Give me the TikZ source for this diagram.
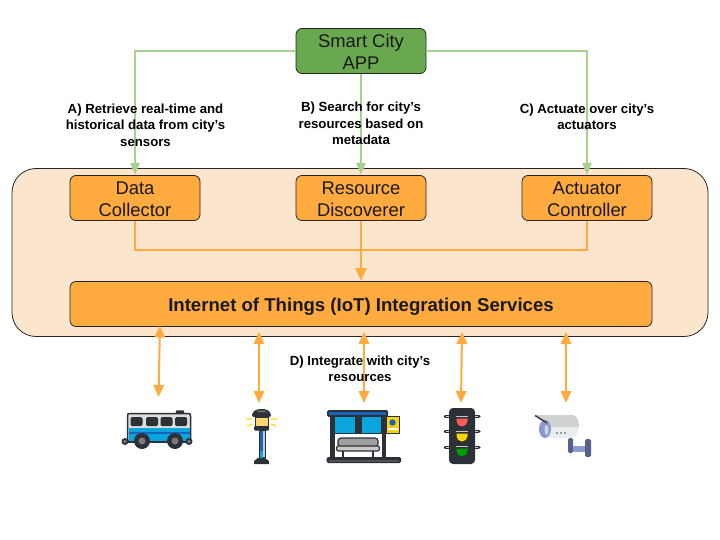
\documentclass[tikz,border=0pt]{standalone}
\usepackage{fontspec}
\setmainfont{Liberation Sans}
\usetikzlibrary{arrows.meta}
\definecolor{gline}{HTML}{A6D18E}
\definecolor{gfill}{HTML}{6AA84F}
\definecolor{ofill}{HTML}{FFAB40}
\definecolor{oline}{HTML}{FFAB40}
\definecolor{panel}{HTML}{FCE5CD}
\definecolor{ink}{HTML}{2B3137}
\definecolor{busblue}{HTML}{0BA5DE}
\definecolor{deepblue}{HTML}{1565C0}
\definecolor{silver}{HTML}{C8C8C8}
\definecolor{camdark}{HTML}{58608A}
\definecolor{cammid}{HTML}{8A99CF}
\definecolor{camtop}{HTML}{D0D2CF}
\definecolor{camlow}{HTML}{E9EDF0}
\newcommand\lowstrut{\rule{0pt}{15.5pt}}
\tikzset{
  x=1pt,y=-1pt,
  box/.style={draw=black!85,line width=0.8pt,rounded corners=6pt,fill=ofill,text=black!90,align=center,font=\fontsize{18.4}{22}\selectfont,inner sep=0pt,minimum width=130pt,minimum height=45pt},
  note/.style={font=\bfseries\fontsize{13.2}{16.5}\selectfont,align=center,text=black,inner sep=0pt},
  glink/.style={draw=gline,line width=2pt,-{Triangle[length=12pt,width=9pt]}},
  olink/.style={draw=oline,line width=2pt},
  oarrow/.style={draw=oline,line width=2.5pt,-{Triangle[length=13pt,width=11pt]}},
  both/.style={draw=oline,line width=2pt,{Triangle[length=12pt,width=10.5pt]}-{Triangle[length=12pt,width=10.5pt]}},
  thick ink/.style={draw=ink,line width=1.5pt},
}
\begin{document}
\begin{tikzpicture}
\useasboundingbox (0,0) rectangle (720,540);
\fill[white] (0,0) rectangle (720,540);
\draw[draw=black!85,line width=0.8pt,fill=panel,rounded corners=24pt] (12,168.5) rectangle (708,336.5);
\node[box,fill=gfill] (app) at (361,51) {\lowstrut Smart City\\APP};
\node[box] (dc) at (135,198) {\lowstrut Data\\Collector};
\node[box] (rd) at (361,198) {\lowstrut Resource\\Discoverer};
\node[box] (ac) at (587,198) {\lowstrut Actuator\\Controller};
\node[box,minimum width=582pt,font=\bfseries\fontsize{18.6}{22}\selectfont] (iot) at (361,304) {\raisebox{-2.5pt}[\height][\depth]{Internet of Things (IoT) Integration Services}};
\coordinate (busb) at (158.5,397);
\coordinate (bust) at (160,325.5);
\coordinate (lampb) at (259,403);
\coordinate (lampt) at (259,332);
\coordinate (shelb) at (364,403);
\coordinate (shelt) at (364,332);
\coordinate (tlb) at (461,403);
\coordinate (tlt) at (462,332);
\coordinate (camb) at (566,403);
\coordinate (camt) at (566,332);
\coordinate (mrg) at (361,250);
\draw[glink] (app.west) -| (dc.north);
\draw[glink] (app.east) -| (ac.north);
\draw[glink] (app.south) -- (rd.north);
\draw[olink] (dc.south) |- (mrg);
\draw[olink] (ac.south) |- (mrg);
\draw[oarrow] (rd.south) -- (iot.north);
\draw[both] (busb) -- (bust);
\draw[both] (lampb) -- (lampt);
\draw[both] (shelb) -- (shelt);
\draw[both] (tlb) -- (tlt);
\draw[both] (camb) -- (camt);
\node[note] (na) at (145.5,125) {A) Retrieve real-time and\\historical data from city's\\sensors};
\node[note] (nb) at (361,123.5) {B) Search for city's\\resources based on\\metadata};
\node[note] (nc) at (587,117) {C) Actuate over city's\\actuators};
\node[note] (nd) at (360,369) {D) Integrate with city's\\resources};
% bus
\draw[thick ink,fill=ink] (176,414) -- (177,411) -- (183,411) -- (184,414) -- cycle;
\draw[thick ink,fill=silver!60] (127.5,441) -- (127.5,416) .. controls (127.5,414) and (128,413.5) .. (130,413.5) -- (188,413.5) .. controls (190,413.5) and (190.5,414) .. (190.5,416) -- (190.5,441) -- cycle;
\fill[busblue] (128.5,428) rectangle (189.5,441);
\fill[deepblue] (128.5,431.5) rectangle (189.5,433.5);
\foreach \wx in {130.5,146,160.5,175}{\fill[ink,rounded corners=1.5pt] (\wx,417) rectangle +(12,9);}
\draw[thick ink] (127.5,442) -- (190.5,442);
\fill[ink] (125,441.5) circle (3.5);\fill[silver!60!black] (125,441.5) circle (1.8);
\fill[ink] (189,441.5) circle (3.5);\fill[silver!60!black] (189,441.5) circle (1.8);
\fill[ink] (142,441) circle (8);\fill[silver!60!black] (142,441) circle (3.5);
\fill[ink] (175,441) circle (8);\fill[silver!60!black] (175,441) circle (3.5);
% lamp
\fill[ink,rounded corners=2pt] (252,417) -- (252,413) -- (257,409) -- (266,409) -- (271,413) -- (271,417) -- cycle;
\fill[silver!60!black] (257,412) -- (258,410.5) -- (265,410.5) -- (266,412) -- cycle;
\draw[ink,line width=1pt,fill=yellow!45!orange!55] (255,417.5) rectangle (268,426);
\fill[ink,rounded corners=1pt] (254,426) rectangle (269,430.5);
\fill[ink] (258.5,430) rectangle (265.5,458);
\fill[deepblue] (260,431) rectangle (262.5,451);
\fill[busblue] (260,451) rectangle (262.5,458);
\fill[silver] (263,431) rectangle (264.5,457);
\fill[ink] (258,458) -- (265,458) -- (269,461) -- (269,464) -- (254,464) -- (254,461) -- cycle;
\draw[yellow!80!orange,line width=1.2pt] (246,419) -- (252,419) (247,426) -- (252,424) (277,419) -- (271,419) (276,426) -- (271,424);
% shelter
\fill[ink,rounded corners=1.5pt] (327,410) rectangle (388,417);
\fill[deepblue] (329,412) rectangle (386,415);
\fill[ink] (330,416) rectangle (335,459);
\fill[ink] (382,416) rectangle (386,459);
\fill[ink] (356,416) rectangle (361,434);
\draw[ink,line width=1pt,fill=busblue] (334.5,416.5) rectangle (355.5,433);
\draw[ink,line width=1pt,fill=busblue] (361,416.5) rectangle (381.5,433);
\draw[ink,line width=1pt,fill=yellow!70!orange] (386,416) rectangle (399.5,433.5);
\fill[deepblue] (392.5,422.5) circle (3.2);
\fill[white] (388,428) rectangle (397.5,430);
\draw[ink,line width=1.2pt,fill=silver!60!black!70,rounded corners=3pt] (338,447) -- (338,438) -- (378,438) -- (378,447) -- cycle;
\draw[ink,line width=1.2pt,fill=silver,rounded corners=2pt] (336.5,446) rectangle (379.5,451);
\draw[ink,line width=1.5pt] (343,451) -- (343,458) (373,451) -- (373,458);
\fill[ink,rounded corners=1.5pt] (326.5,457) rectangle (401,463);
\fill[silver!40!black] (329,459.5) rectangle (399,461.5);
% traffic light
\foreach \ty in {416,431,447}{\draw[ink,line width=3pt,line cap=round] (445,\ty) -- (479,\ty);\draw[silver!70,line width=1pt] (446,\ty) -- (449,\ty) (475,\ty) -- (478,\ty);}
\fill[ink,rounded corners=4pt] (449,408) rectangle (475,464);
\foreach \ty/\tc in {416/red!65,431/yellow!75!orange,446/green!60!black}{
 \draw[silver,line width=1pt] (456,\ty) -- (468,\ty);
 \fill[\tc] (456.5,\ty+2.5) -- (467.5,\ty+2.5) -- (467.5,\ty+5) arc[start angle=0,end angle=180,radius=5.5] -- cycle;}
% camera
\fill[camtop] (535,415) -- (572,415) .. controls (577,415) and (579,420) .. (579,427) -- (548,427) -- cycle;
\fill[camlow] (548,427) -- (579,427) .. controls (579,433) and (575,438) .. (572,438) -- (548,438) -- cycle;
\fill[cammid] (545,429) ellipse (6pt and 9pt);
\fill[camlow!70!cammid] (546.5,430) ellipse (2pt and 5pt);
\draw[gray!50!black,line width=1.5pt] (535,415.5) -- (547,423);
\fill[camdark,rounded corners=1.5pt] (568,438) rectangle (573,453);
\fill[cammid] (573,446) rectangle (585,452);
\fill[camdark,rounded corners=1.5pt] (585,439) rectangle (591,457);
\foreach \cx in {557,561,565}{\fill[gray!60!black] (\cx,433) circle (0.9);}
\end{tikzpicture}
\end{document}
